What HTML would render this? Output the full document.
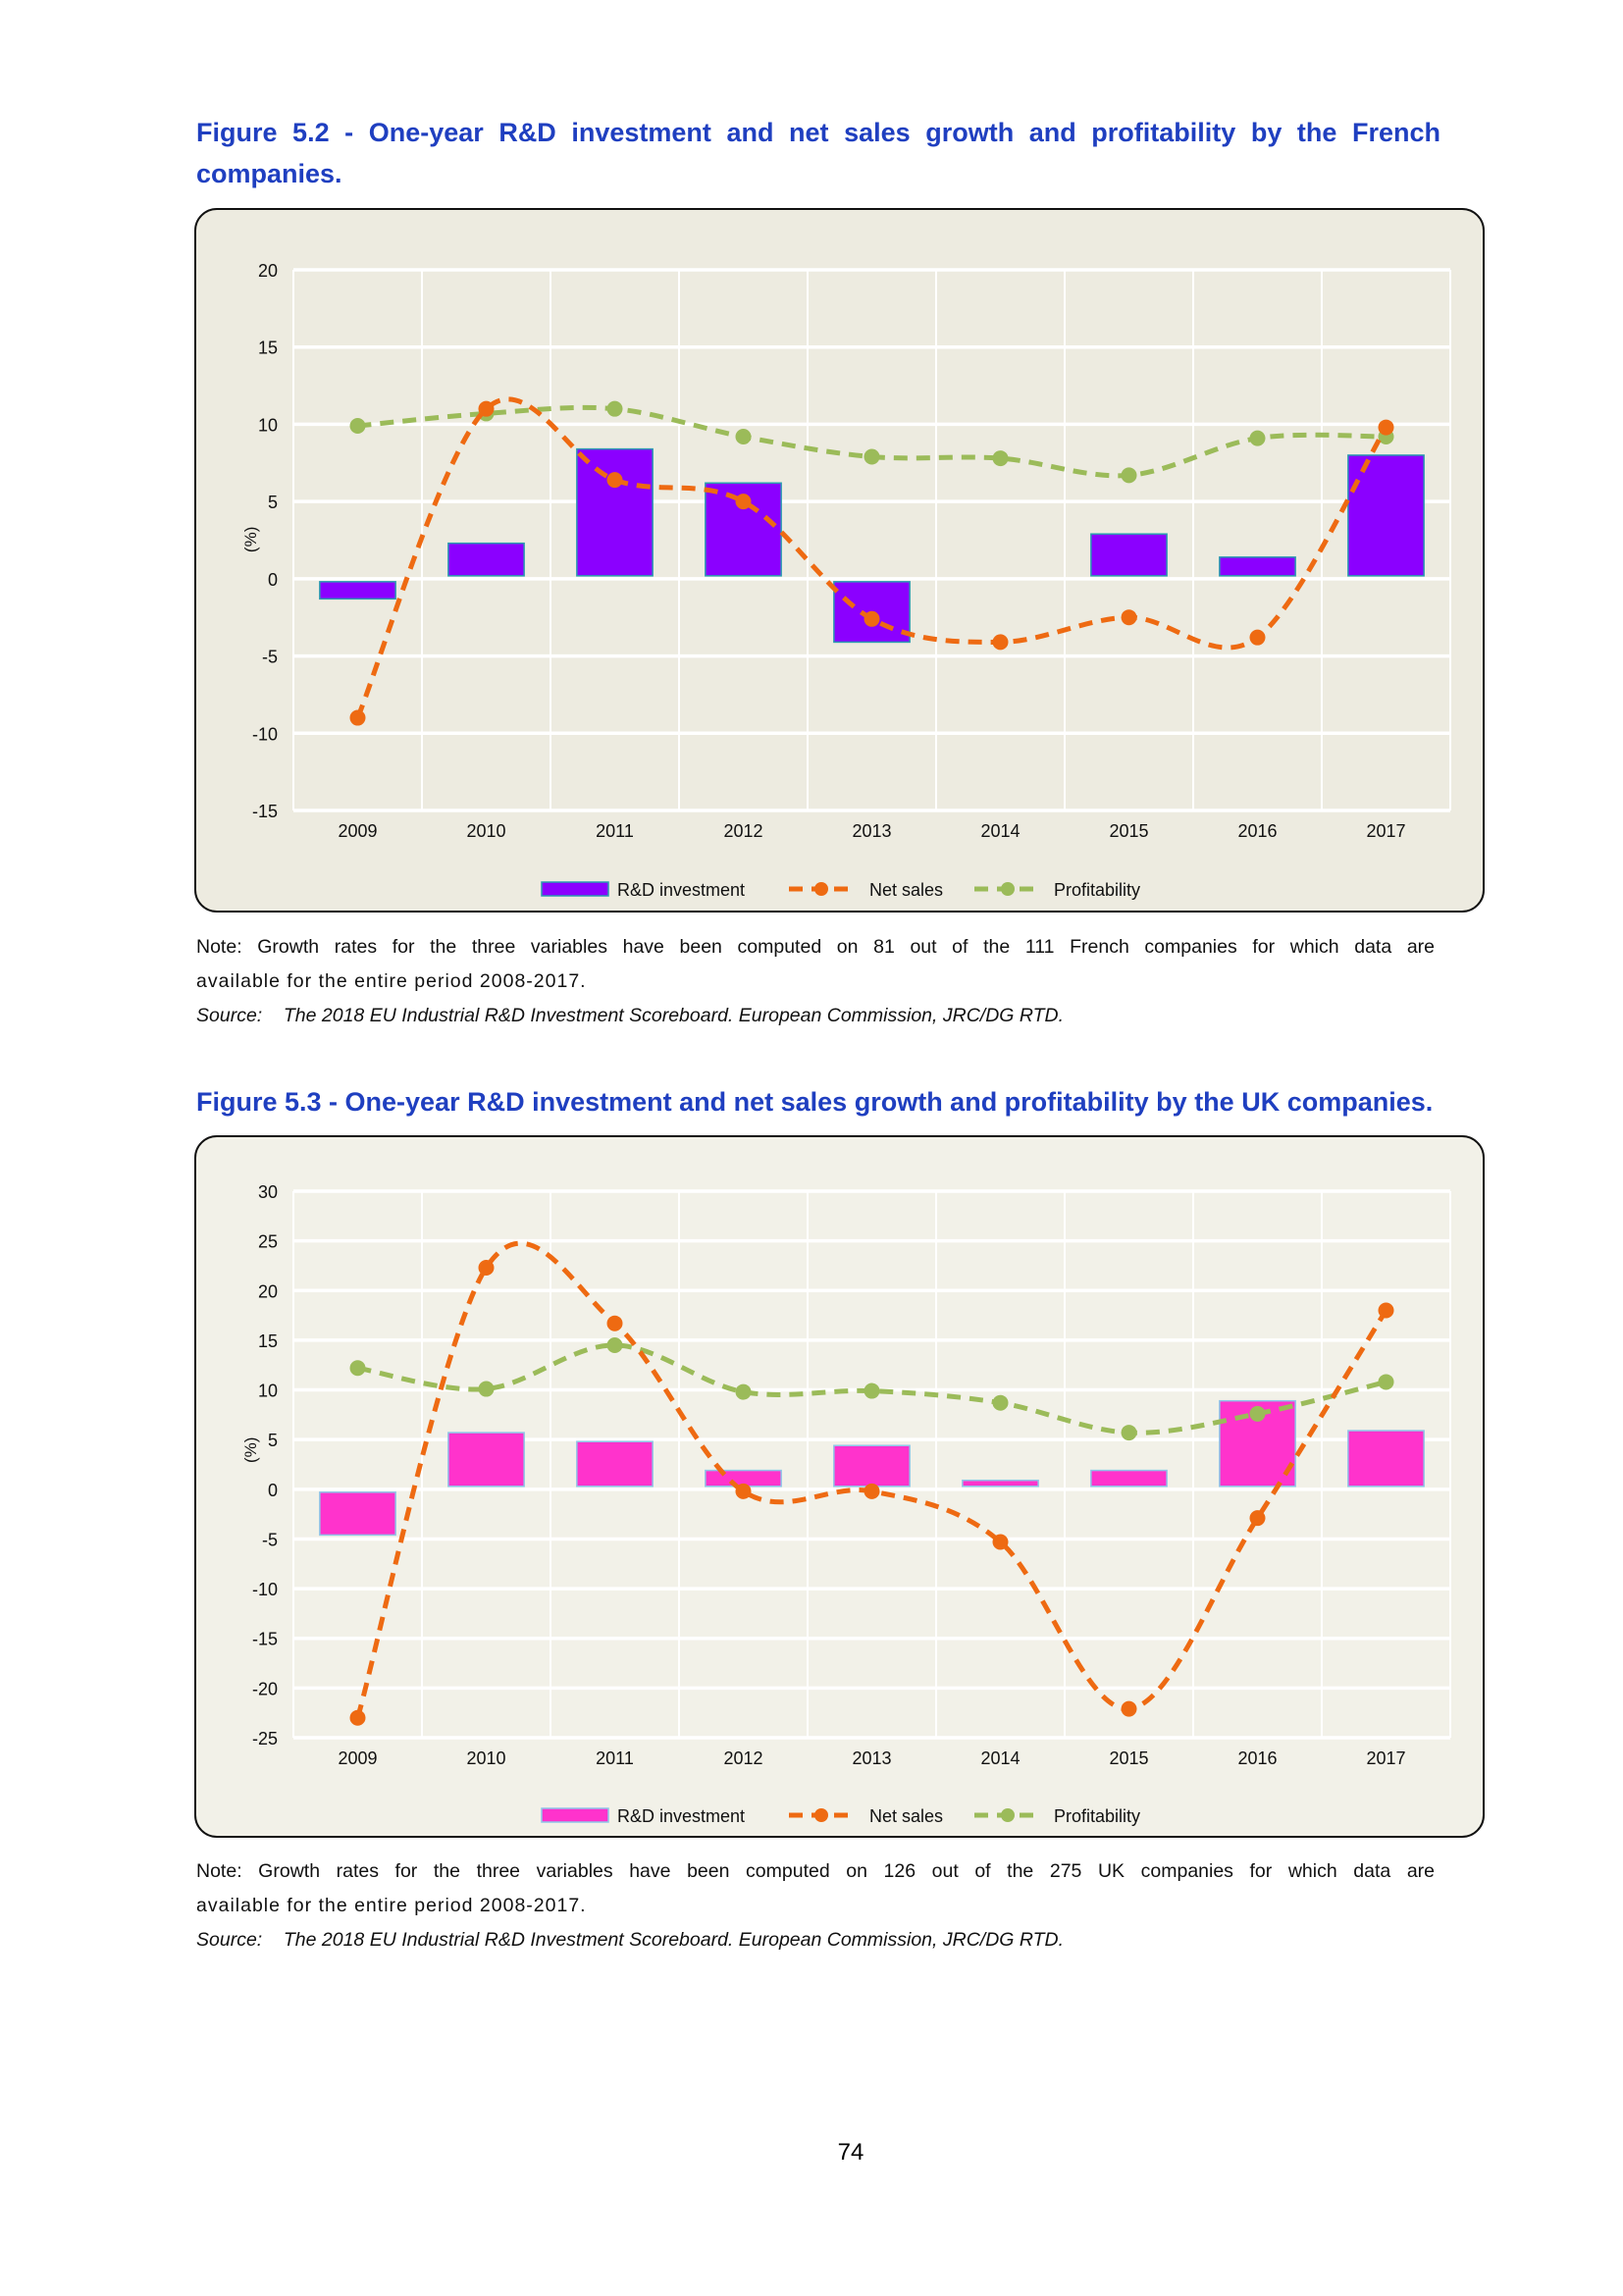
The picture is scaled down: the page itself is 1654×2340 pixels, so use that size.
<!DOCTYPE html>
<html><head><meta charset="utf-8">
<style>
body{margin:0;background:#fff;}
#page{position:relative;width:1654px;height:2340px;background:#fff;font-family:"Liberation Sans",sans-serif;overflow:hidden;}
.title{position:absolute;left:200px;width:1268px;color:#1f3fc0;font-weight:bold;font-size:27px;line-height:42px;text-align:justify;text-align-last:left;}
.nl{position:absolute;left:200px;width:1262px;font-size:19.5px;color:#111;white-space:nowrap;}
.just{text-align:justify;text-align-last:justify;white-space:normal;}
.src{position:absolute;left:200px;font-size:19.5px;color:#111;font-style:italic;}
svg{position:absolute;left:0;top:0;}
svg text{font-family:"Liberation Sans",sans-serif;}
</style></head><body>
<div id="page">
<div class="title" style="top:114px">Figure 5.2 - One-year R&amp;D investment and net sales growth and profitability by the French companies.</div>
<div class="nl just" style="top:954px">Note: Growth rates for the three variables have been computed on 81 out of the 111 French companies for which data are</div>
<div class="nl" style="top:989px;letter-spacing:1px">available for the entire period 2008-2017.</div>
<div class="src" style="top:1024px">Source:&nbsp;&nbsp;&nbsp; The 2018 EU Industrial R&amp;D Investment Scoreboard. European Commission, JRC/DG RTD.</div>
<div class="title" style="top:1102px;text-align:left">Figure 5.3 - One-year R&amp;D investment and net sales growth and profitability by the UK companies.</div>
<div class="nl just" style="top:1896px">Note: Growth rates for the three variables have been computed on 126 out of the 275 UK companies for which data are</div>
<div class="nl" style="top:1931px;letter-spacing:1px">available for the entire period 2008-2017.</div>
<div class="src" style="top:1966px">Source:&nbsp;&nbsp;&nbsp; The 2018 EU Industrial R&amp;D Investment Scoreboard. European Commission, JRC/DG RTD.</div>
<div style="position:absolute;left:842px;width:50px;top:2180px;text-align:center;font-size:24px">74</div>
<svg id="chart" width="1654" height="2340"></svg>
</div>
<script>
const categories=["2009","2010","2011","2012","2013","2014","2015","2016","2017"];
const frRD=[-1.3,2.3,8.4,6.2,-4.1,0,2.9,1.4,8.0];
const frSales=[-9.0,11.0,6.4,5.0,-2.6,-4.1,-2.5,-3.8,9.8];
const frProfit=[9.9,10.7,11.0,9.2,7.9,7.8,6.7,9.1,9.2];
const frTicks=[20,15,10,5,0,-5,-10,-15];
const ukRD=[-4.6,5.7,4.8,1.9,4.4,0.9,1.9,8.9,5.9];
const ukSales=[-23.0,22.3,16.7,-0.2,-0.2,-5.3,-22.1,-2.9,18.0];
const ukProfit=[12.2,10.1,14.5,9.8,9.9,8.7,5.7,7.6,10.8];
const ukTicks=[30,25,20,15,10,5,0,-5,-10,-15,-20,-25];

const NS="http://www.w3.org/2000/svg";
const svg=document.getElementById('chart');
function mk(tag,attrs,parent){const e=document.createElementNS(NS,tag);for(const k in attrs)e.setAttribute(k,attrs[k]);(parent||svg).appendChild(e);return e;}
function smooth(pts){let d=`M${pts[0][0]},${pts[0][1]}`;for(let i=0;i<pts.length-1;i++){const p0=pts[i-1]||pts[i],p1=pts[i],p2=pts[i+1],p3=pts[i+2]||p2;const t=6;const c1=[p1[0]+(p2[0]-p0[0])/t,p1[1]+(p2[1]-p0[1])/t],c2=[p2[0]-(p3[0]-p1[0])/t,p2[1]-(p3[1]-p1[1])/t];d+=` C${c1[0]},${c1[1]} ${c2[0]},${c2[1]} ${p2[0]},${p2[1]}`;}return d;}

function drawChart(o){
  const g=mk('g',{});
  
  
  const bx=mk('rect',{x:199,y:o.boxTop,width:1313,height:o.boxH,rx:22,fill:o.bg,stroke:'#111','stroke-width':2},g);
  
  const L=299,R=1478,T=o.top,B=o.bottom,max=o.ticks[0],min=o.ticks[o.ticks.length-1];
  const y=v=>T+(max-v)/(max-min)*(B-T);
  const cw=(R-L)/categories.length;
  const x=i=>L+cw*(i+0.5);
  for(let i=0;i<=categories.length;i++){const l=mk('line',{x1:L+cw*i,x2:L+cw*i,y1:T,y2:B,stroke:'#fff','stroke-width':2},g);}
  o.ticks.forEach(t=>{
    const l=mk('line',{x1:L,x2:R,y1:y(t),y2:y(t),stroke:'#fff','stroke-width':3.5},g);
    
    const tx=mk('text',{x:283,y:y(t)+7,'text-anchor':'end','font-size':18,fill:'#111'},g);tx.textContent=t;
    
  });
  categories.forEach((c,i)=>{const tx=mk('text',{x:x(i),y:o.xlabY,'text-anchor':'middle','font-size':18,fill:'#111'},g);tx.textContent=c;
    });
  const yl=mk('text',{x:0,y:0,'text-anchor':'middle','font-size':17,fill:'#111',transform:`translate(261,${y(0)-40}) rotate(-90)`},g);yl.textContent='(%)';
  
  const bw=cw*0.59;
  o.rd.forEach((v,i)=>{if(v===0)return;const y0=y(0),yv=y(v);
    const r=mk('rect',{x:x(i)-bw/2,y:Math.min(y0,yv)+(v>0?0:3),width:bw,height:Math.abs(yv-y0)-3,fill:o.barColor,stroke:o.barStroke,'stroke-width':1.5},g);
    });
  [[o.profit,'#9bbb59','profitability'],[o.sales,'#ee6a12','net-sales']].forEach(([arr,col,nm])=>{
    const pts=arr.map((v,i)=>[x(i),y(v)]);
    const p=mk('path',{d:smooth(pts),fill:'none',stroke:col,'stroke-width':5,'stroke-dasharray':'14 9'},g);
    
    pts.forEach((pt,i)=>{const c=mk('circle',{cx:pt[0],cy:pt[1],r:8,fill:col},g);
      });
  });
  const ly=o.legendY;
  const lg=mk('g',{},g);
  mk('rect',{x:552,y:ly-7,width:68,height:14,fill:o.barColor,stroke:o.barStroke,'stroke-width':1.5},lg);
  let t=mk('text',{x:629,y:ly+7,'font-size':18,fill:'#111'},lg);t.textContent='R&D investment';
  mk('line',{x1:804,x2:871,y1:ly,y2:ly,stroke:'#ee6a12','stroke-width':5,'stroke-dasharray':'14 9'},lg);
  mk('circle',{cx:837,cy:ly,r:7,fill:'#ee6a12'},lg);
  t=mk('text',{x:886,y:ly+7,'font-size':18,fill:'#111'},lg);t.textContent='Net sales';
  mk('line',{x1:993,x2:1061,y1:ly,y2:ly,stroke:'#9bbb59','stroke-width':5,'stroke-dasharray':'14 9'},lg);
  mk('circle',{cx:1027,cy:ly,r:7,fill:'#9bbb59'},lg);
  t=mk('text',{x:1074,y:ly+7,'font-size':18,fill:'#111'},lg);t.textContent='Profitability';
}
drawChart({name:'figure-5-2-chart',boxTop:213,boxH:716,bg:'#edebe0',top:275,bottom:826,xlabY:853,ticks:frTicks,rd:frRD,sales:frSales,profit:frProfit,barColor:'#8b00ff',barStroke:'#2a9bb0',legendY:906});
drawChart({name:'figure-5-3-chart',boxTop:1158,boxH:714,bg:'#f2f1e8',top:1214,bottom:1771,xlabY:1798,ticks:ukTicks,rd:ukRD,sales:ukSales,profit:ukProfit,barColor:'#ff33cc',barStroke:'#8ec5e8',legendY:1850});
</script>
</body></html>
